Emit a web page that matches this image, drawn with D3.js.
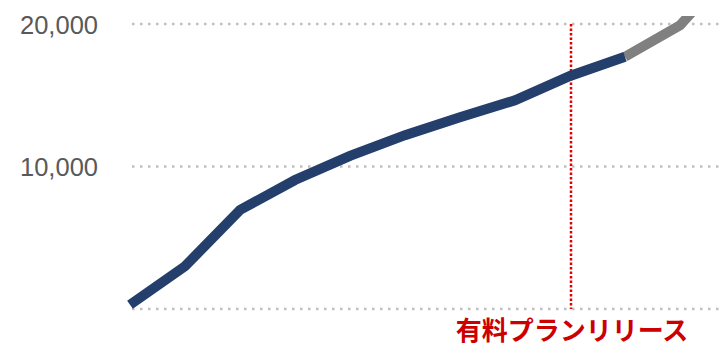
<!DOCTYPE html>
<html>
<head>
<meta charset="utf-8">
<script src="https://cdn.jsdelivr.net/npm/d3@7"></script>
<style>
  body { margin: 0; background: #fff; }
  svg { display: block; }
</style>
</head>
<body>
<script>
// data
let actual = [300, 3000, 6950, 9050, 10750, 12200, 13450, 14650, 16350, 17700]
let forecast = [17700, 19900, 24200]
let yTicks = [0, 10000, 20000]
let releaseIndex = 8
let releaseLabel = "有料プランリリース"

let w = 722, h = 346
let svg = d3.select("body").append("svg")
    .attr("width", w)
    .attr("height", h)

let xScale = d3.scaleLinear().domain([0, 1]).range([130, 185])
let yScale = d3.scaleLinear().domain([0, 20000]).range([309, 24])

svg.append("defs").append("clipPath").attr("id", "plot")
    .append("rect").attr("x", 0).attr("y", 16).attr("width", w).attr("height", 330)

//gridlines + labels
let yAxis = d3.axisLeft(yScale)
    .tickValues(yTicks)
    .tickSize(0)
    .tickFormat(d => d === 0 ? "" : d3.format(",")(d))
svg.append("g")
    .attr("transform", "translate(98,0)")
    .call(yAxis)
    .call(g => g.select(".domain").remove())
    .call(g => g.selectAll("text")
        .attr("x", 0)
        .attr("dy", "0.36em")
        .attr("fill", "#595959")
        .style("font-family", "Liberation Sans, Arial, sans-serif")
        .style("font-size", "25.5px"))

svg.append("g").selectAll("line")
    .data(yTicks)
    .enter()
    .append("line")
    .attr("x1", 132)
    .attr("x2", w)
    .attr("y1", d => yScale(d))
    .attr("y2", d => yScale(d))
    .attr("stroke", "#bfbfbf")
    .attr("stroke-width", 2.5)
    .attr("stroke-dasharray", "2.5,5.5")

//release marker
svg.append("line")
    .attr("x1", xScale(releaseIndex) + 1)
    .attr("x2", xScale(releaseIndex) + 1)
    .attr("y1", yScale(20000))
    .attr("y2", yScale(0))
    .attr("stroke", "#e00000")
    .attr("stroke-width", 2.5)
    .attr("stroke-dasharray", "2.5,2")

svg.append("text")
    .attr("x", xScale(releaseIndex) + 2)
    .attr("y", 340)
    .attr("text-anchor", "middle")
    .attr("fill", "#cc0000")
    .style("font-family", "Noto Sans CJK JP, sans-serif")
    .style("font-weight", "bold")
    .style("font-size", "26px")
    .text(releaseLabel)

//lines
let line = d3.line()
    .x(d => xScale(d[0]))
    .y(d => yScale(d[1]))

let plot = svg.append("g").attr("clip-path", "url(#plot)")
plot.append("path")
    .datum(forecast.map((v, i) => [i + actual.length - 1, v]))
    .attr("d", line)
    .attr("fill", "none")
    .attr("stroke", "#808080")
    .attr("stroke-width", 10)
plot.append("path")
    .datum(actual.map((v, i) => [i, v]))
    .attr("d", line)
    .attr("fill", "none")
    .attr("stroke", "#243f6b")
    .attr("stroke-width", 10)
</script>
</body>
</html>
